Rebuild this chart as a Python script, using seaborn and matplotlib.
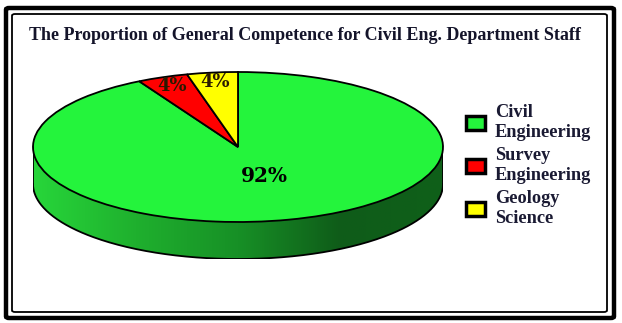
import numpy as np
import matplotlib
matplotlib.use("Agg")
import matplotlib.pyplot as plt
import seaborn as sns
from matplotlib.patches import Polygon, FancyBboxPatch, Patch
from matplotlib.colors import LinearSegmentedColormap

categories = ["Civil\nEngineering", "Survey\nEngineering", "Geology\nScience"]
shares = [92, 4, 4]
slice_colors = ["#24F43C", "#FF0000", "#FFFF00"]
side_shades = ["#27d63a", "#1fb02e", "#179026", "#0f5c19", "#0f601a"]
title = "The Proportion of General Competence for Civil Eng. Department Staff"

sns.set_theme(style="white")
plt.rcParams["font.family"] = ["Liberation Serif", "DejaVu Serif"]

W, H = 622, 323
fig = plt.figure(figsize=(W / 100, H / 100), dpi=100)
fig.patch.set_facecolor("white")


def px_box(x0, y0, x1, y1):
    return [x0 / W, 1 - y1 / H, (x1 - x0) / W, (y1 - y0) / H]


# double frame around the whole chart
for (x0, y0, x1, y1), lw in [((6, 8, 614, 318), 3.2), ((12, 14, 607, 312), 1.3)]:
    fig.patches.append(FancyBboxPatch(
        (x0 / W, 1 - y1 / H), (x1 - x0) / W, (y1 - y0) / H,
        boxstyle="round,pad=0,rounding_size=0.005", transform=fig.transFigure,
        facecolor="none", edgecolor="black", linewidth=lw))

fig.text(305 / W, 1 - 35 / H, title, ha="center", va="center",
         fontsize=13, fontweight="bold", color="#14142a")

# pie: top ellipse spans x 33..443, y 72..222; the rim hangs below it
depth = 37 / 75
ax = fig.add_axes(px_box(33, 72, 443, 72 + 75 * (2 + depth)))
wedges, _ = ax.pie(shares, colors=slice_colors, startangle=90, counterclock=False,
                   radius=1, center=(0, 0), frame=False,
                   wedgeprops=dict(edgecolor="black", linewidth=1.3, zorder=2))

# front rim of the disc with a left-to-right shade
t = np.linspace(np.pi, 2 * np.pi, 300)
rim_top = np.column_stack([np.cos(t), np.sin(t)])
rim_bot = np.column_stack([np.cos(t[::-1]), np.sin(t[::-1]) - depth])
rim = Polygon(np.vstack([rim_top, rim_bot]), closed=True, facecolor="none",
              edgecolor="none", transform=ax.transData)
ax.add_patch(rim)
cmap = LinearSegmentedColormap.from_list("rim", side_shades)
grad = np.linspace(0, 1, 256).reshape(1, -1)
im = ax.imshow(grad, cmap=cmap, extent=(-1, 1, -1 - depth, 1), aspect="auto",
               zorder=1, interpolation="bilinear")
im.set_clip_path(rim)
ax.plot(np.cos(t), np.sin(t) - depth, color="black", lw=1.3, zorder=3)
ax.plot([-1, -1], [0, -depth], color="black", lw=1.3, zorder=3)
ax.plot([1, 1], [0, -depth], color="black", lw=1.3, zorder=3)

# percentage labels on the top face
for w, v in zip(wedges, shares):
    mid = np.deg2rad((w.theta1 + w.theta2) / 2)
    r = 0.40 if v > 50 else 0.88
    ax.text(r * np.cos(mid) + (0.03 if v > 50 else 0.0), r * np.sin(mid),
            f"{v}%", ha="center", va="center",
            fontsize=14.5 if v > 50 else 13, fontweight="bold",
            family=["DejaVu Serif"], color="black" if v > 50 else "#2a1a00",
            zorder=4)

ax.set_aspect("auto")
ax.set_xlim(-1, 1)
ax.set_ylim(-1 - depth, 1)
ax.axis("off")

handles = [Patch(facecolor=c, edgecolor="black", linewidth=2.5) for c in slice_colors]
fig.legend(handles, categories, loc="upper left",
           bbox_to_anchor=(459 / W, 1 - 97 / H), frameon=False,
           prop=dict(family="Liberation Serif", weight="bold", size=13.2),
           labelcolor="#1a1a33", handlelength=1.0, handleheight=0.8,
           handletextpad=0.55, labelspacing=0.35, borderaxespad=0)

fig.savefig("out.png", dpi=100, facecolor="white")
